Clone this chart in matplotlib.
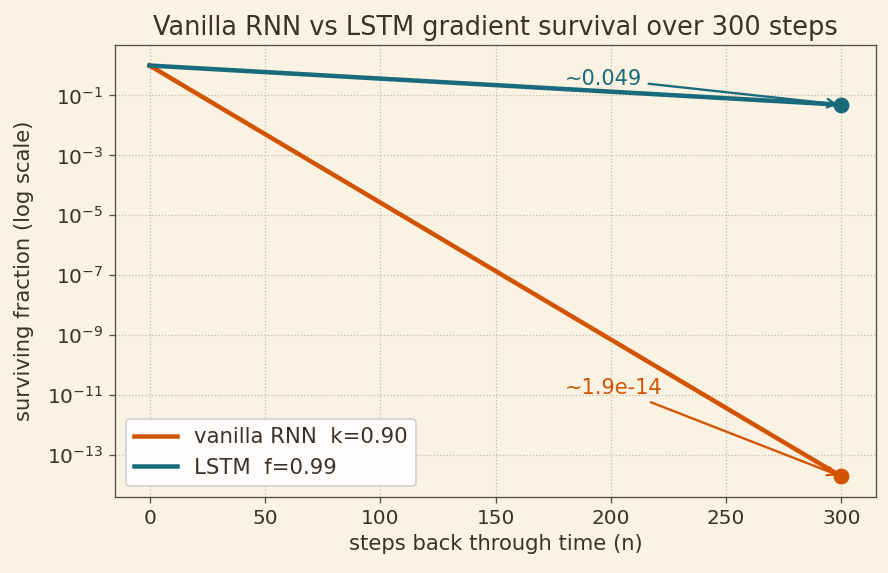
import matplotlib
matplotlib.use("Agg")
import matplotlib.pyplot as plt
import matplotlib.ticker as mt

# data (endpoints of exponential decay; straight lines on log axis)
steps = [0, 300]
rnn_vals = [1.0, 1.9e-14]
lstm_vals = [1.0, 0.049]
rnn_label = "vanilla RNN  k=0.90"
lstm_label = "LSTM  f=0.99"
rnn_note = "~1.9e-14"
lstm_note = "~0.049"

bg = "#faf2e3"
txt = "#3b3128"
spine = "#5a4e40"
orange = "#d35400"
teal = "#196a7c"

plt.rcParams.update({
    "font.family": ["DejaVu Sans"],
    "text.color": txt,
    "axes.labelcolor": txt,
    "xtick.color": spine,
    "ytick.color": spine,
    "xtick.labelcolor": txt,
    "ytick.labelcolor": txt,
})

fig, ax = plt.subplots(figsize=(7.4, 4.775), dpi=120)
fig.patch.set_facecolor(bg)
ax.set_facecolor(bg)

ax.plot(steps, rnn_vals, color=orange, lw=2.7, label=rnn_label)
ax.plot(steps, lstm_vals, color=teal, lw=2.7, label=lstm_label)
ax.plot(steps[-1], rnn_vals[-1], "o", color=orange, ms=8.5)
ax.plot(steps[-1], lstm_vals[-1], "o", color=teal, ms=8.5)

ax.set_yscale("log")
ax.annotate(lstm_note, xy=(steps[-1], lstm_vals[-1]), xytext=(180, 0.36),
            color=teal, fontsize=12.5, va="center",
            arrowprops=dict(arrowstyle="->", color=teal, lw=1.4))
ax.annotate(rnn_note, xy=(steps[-1], rnn_vals[-1]), xytext=(180, 1.75e-11),
            color=orange, fontsize=12.5, va="center",
            arrowprops=dict(arrowstyle="->", color=orange, lw=1.4))

ax.grid(True, which="major", ls=":", color="#c6bcac", lw=0.75)
ax.yaxis.set_major_locator(mt.LogLocator(base=10, numticks=9))
ax.yaxis.set_minor_locator(mt.NullLocator())
for s in ax.spines.values():
    s.set_color(spine)
ax.tick_params(labelsize=12)

ax.set_title("Vanilla RNN vs LSTM gradient survival over 300 steps", fontsize=15.4, color=txt)
ax.set_xlabel("steps back through time (n)", fontsize=12.7)
ax.set_ylabel("surviving fraction (log scale)", fontsize=12.7, labelpad=8)

leg = ax.legend(loc="lower left", fontsize=12.75, framealpha=0.9, facecolor="white", edgecolor="#cccccc")
for t in leg.get_texts():
    t.set_color(txt)

fig.subplots_adjust(left=0.1295, right=0.9865, top=0.9215, bottom=0.1326)
fig.savefig("out.png", dpi=120, facecolor=bg)
